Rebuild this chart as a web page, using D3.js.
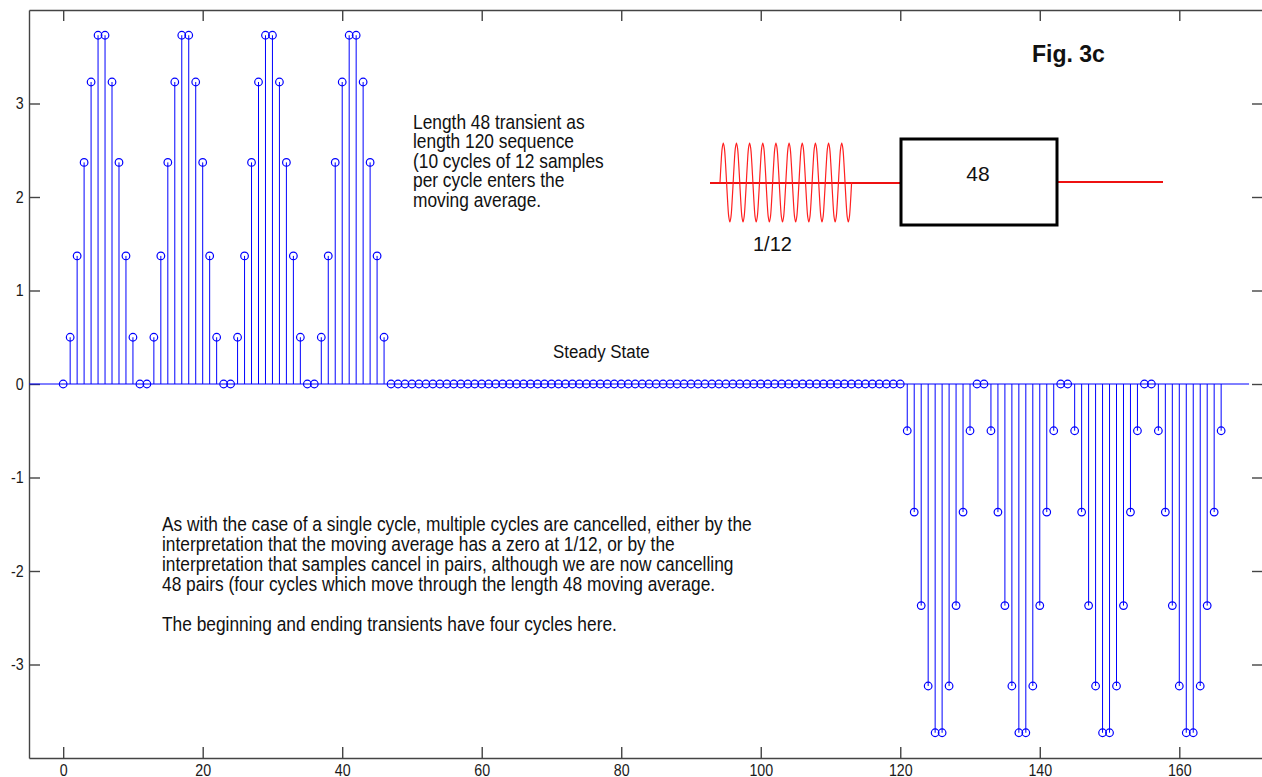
<!DOCTYPE html>
<html>
<head>
<meta charset="utf-8">
<script src="https://cdn.jsdelivr.net/npm/d3@7"></script>
<style>
  body { margin: 0; background: #fff; }
  svg { display: block; font-family: "Liberation Sans", Arial, sans-serif; }
</style>
</head>
<body>
<svg width="1262" height="777"></svg>
<script>
// moving sum output, n = 0..166
var startTransient = [
  0, 0.5, 1.37, 2.37, 3.23, 3.73, 3.73, 3.23, 2.37, 1.37, 0.5, 0,
  0, 0.5, 1.37, 2.37, 3.23, 3.73, 3.73, 3.23, 2.37, 1.37, 0.5, 0,
  0, 0.5, 1.37, 2.37, 3.23, 3.73, 3.73, 3.23, 2.37, 1.37, 0.5, 0,
  0, 0.5, 1.37, 2.37, 3.23, 3.73, 3.73, 3.23, 2.37, 1.37, 0.5, 0
]
var steadyState = [
  0, 0, 0, 0, 0, 0, 0, 0, 0, 0, 0, 0,
  0, 0, 0, 0, 0, 0, 0, 0, 0, 0, 0, 0,
  0, 0, 0, 0, 0, 0, 0, 0, 0, 0, 0, 0,
  0, 0, 0, 0, 0, 0, 0, 0, 0, 0, 0, 0,
  0, 0, 0, 0, 0, 0, 0, 0, 0, 0, 0, 0,
  0, 0, 0, 0, 0, 0, 0, 0, 0, 0, 0, 0
]
var endTransient = [
  0, -0.5, -1.37, -2.37, -3.23, -3.73, -3.73, -3.23, -2.37, -1.37, -0.5, 0,
  0, -0.5, -1.37, -2.37, -3.23, -3.73, -3.73, -3.23, -2.37, -1.37, -0.5, 0,
  0, -0.5, -1.37, -2.37, -3.23, -3.73, -3.73, -3.23, -2.37, -1.37, -0.5, 0,
  0, -0.5, -1.37, -2.37, -3.23, -3.73, -3.73, -3.23, -2.37, -1.37, -0.5
]
var xTicks = [0, 20, 40, 60, 80, 100, 120, 140, 160]
var yTicks = [-3, -2, -1, 0, 1, 2, 3]

// input sinusoid sketch: 12 samples per cycle, 10 cycles
var inputCycle = [0, 0.5, 0.87, 1, 0.87, 0.5, 0, -0.5, -0.87, -1, -0.87, -0.5]
var inputCycles = 10

var noteTop = ['Length 48 transient as', 'length 120 sequence',
  '(10 cycles of 12 samples', 'per cycle enters the', 'moving average.']
var noteBottom = [
  'As with the case of a single cycle, multiple cycles are cancelled, either by the',
  'interpretation that the moving average has a zero at 1/12, or by the',
  'interpretation that samples cancel in pairs, although we are now cancelling',
  '48 pairs (four cycles which move through the length 48 moving average.',
  '',
  'The beginning and ending transients have four cycles here.'
]

function main() {
    var values = startTransient.concat(steadyState, endTransient)
    var data = values.map(function(v, i) { return {n: i, v: v} })

    var svg = d3.select('svg')
    var squish = 0.89
    var plain = function(d) { return String(d) }   // plain hyphen minus like the original

    var x = d3.scaleLinear().domain([-4.9, 172]).range([29, 1263])
    var y = d3.scaleLinear().domain([-4, 4]).range([758, 10])

    // axes box with inward ticks
    var axisColor = '#444'
    var left = svg.append('g').attr('transform', 'translate(29,0)')
        .call(d3.axisLeft(y).tickValues(yTicks).tickFormat(plain)
            .tickSizeInner(-11).tickSizeOuter(0).tickPadding(6))
    var bottom = svg.append('g').attr('transform', 'translate(0,758)')
        .call(d3.axisBottom(x).tickValues(xTicks).tickFormat(plain)
            .tickSizeInner(-11).tickSizeOuter(0).tickPadding(6.2))
    var top = svg.append('g').attr('transform', 'translate(0,10)')
        .call(d3.axisTop(x).tickValues(xTicks).tickSizeInner(-11).tickSizeOuter(0).tickFormat(''))
    var right = svg.append('g').attr('transform', 'translate(1263,0)')
        .call(d3.axisRight(y).tickValues(yTicks).tickSizeInner(-11).tickSizeOuter(0).tickFormat(''))

    ;[left, bottom, top, right].forEach(function(g) {
        g.selectAll('path, line').attr('stroke', axisColor).attr('stroke-width', 1.4)
        g.selectAll('text').attr('fill', '#1a1a1a').attr('font-size', 16)
            .attr('font-family', '"Liberation Sans", Arial, sans-serif')
            .attr('transform', 'scale(' + squish + ',1)')
    })

    // stem baseline
    svg.append('line')
        .attr('x1', x(-4.9)).attr('x2', x(170))
        .attr('y1', y(0)).attr('y2', y(0))
        .attr('stroke', '#0000ff').attr('stroke-width', 1)

    // stems
    svg.append('g').selectAll('line')
        .data(data).enter().append('line')
        .attr('x1', function(d) { return x(d.n) })
        .attr('x2', function(d) { return x(d.n) })
        .attr('y1', y(0))
        .attr('y2', function(d) { return y(d.v) })
        .attr('stroke', '#0000ff').attr('stroke-width', 1)

    // circle markers
    svg.append('g').selectAll('circle')
        .data(data).enter().append('circle')
        .attr('cx', function(d) { return x(d.n) })
        .attr('cy', function(d) { return y(d.v) })
        .attr('r', 3.8)
        .attr('fill', 'none')
        .attr('stroke', '#0000ff').attr('stroke-width', 1.2)

    // text helper, the figure is a bit narrow horizontally
    function label(tx, ty, str, size, opts) {
        opts = opts || {}
        var sx = opts.noSquish ? 1 : squish
        svg.append('text')
            .attr('transform', 'translate(' + tx + ',' + ty + ') scale(' + sx + ',1)')
            .attr('text-anchor', opts.anchor || 'start')
            .attr('font-size', size)
            .attr('font-weight', opts.bold ? 'bold' : 'normal')
            .attr('fill', '#111')
            .text(str)
    }

    label(1032, 62, 'Fig. 3c', 23, {bold: true, noSquish: true})

    noteTop.forEach(function(s, i) { label(413, 129 + i * 19.4, s, 19.5) })
    noteBottom.forEach(function(s, i) { if (s) label(162, 531 + i * 20, s, 19.5) })
    label(553, 358, 'Steady State', 19)

    // block diagram: sinusoid -> [48] ->
    svg.append('line').attr('x1', 710).attr('x2', 900).attr('y1', 183).attr('y2', 183)
        .attr('stroke', '#ee1111').attr('stroke-width', 2)
    svg.append('line').attr('x1', 1058).attr('x2', 1163).attr('y1', 182).attr('y2', 182)
        .attr('stroke', '#ee1111').attr('stroke-width', 2)
    svg.append('rect').attr('x', 901).attr('y', 139).attr('width', 156).attr('height', 86)
        .attr('fill', 'none').attr('stroke', '#000').attr('stroke-width', 3)
    label(978, 181, '48', 21, {anchor: 'middle', noSquish: true})

    var wavePts = []
    for (var c = 0; c < inputCycles; c++) {
        inputCycle.forEach(function(v, k) { wavePts.push({t: c * 12 + k, v: v}) })
    }
    wavePts.push({t: inputCycles * 12, v: 0})
    var wx = d3.scaleLinear().domain([0, 120]).range([720, 851.6])
    var wy = d3.scaleLinear().domain([-1, 1]).range([222, 143])
    svg.append('path')
        .datum(wavePts)
        .attr('d', d3.line().x(function(d) { return wx(d.t) }).y(function(d) { return wy(d.v) })
            .curve(d3.curveCatmullRom))
        .attr('fill', 'none').attr('stroke', '#ff2020').attr('stroke-width', 1.2)
    label(753, 251, '1/12', 20, {noSquish: true})
}

main()
</script>
</body>
</html>
